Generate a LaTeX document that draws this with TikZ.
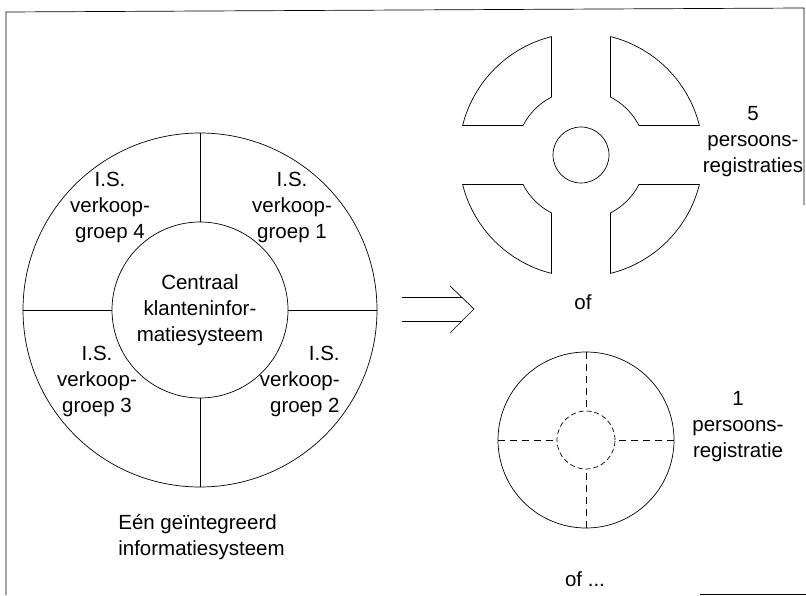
\documentclass[tikz,border=0pt]{standalone}
\usepackage{fontspec}
\setmainfont{Liberation Sans}
\usetikzlibrary{positioning}
\begin{document}
\begin{tikzpicture}[x=1pt,y=1pt,line width=0.7pt,
  lbl/.style={align=center,inner sep=0pt,font=\fontsize{20.5}{26}\selectfont},
  ring/.style={circle,draw,inner sep=0pt}]
\useasboundingbox (0,0) rectangle (806,595);
% frame (partly cut off)
\draw (6,0)--(6,583)--(804,587)--(804,390);
\draw (700,1)--(806,1);
% integrated system
\node[ring,minimum size=354pt] (ring) at (200,285) {};
\node[ring,minimum size=176pt,lbl] (core) at (ring.center) {Centraal\\klanteninfor-\\matiesysteem};
\draw (ring.north)--(core.north);
\draw (ring.south)--(core.south);
\draw (ring.west)--(core.west);
\draw (ring.east)--(core.east);
\node[lbl] (g4) at (110,388) {I.S.\\verkoop-\\groep 4};
\node[lbl] (g1) at (292,388) {I.S.\\verkoop-\\groep 1};
\node[lbl] (g3) at (97,214) {I.S.\\verkoop-\\groep 3};
\node[lbl,align=right,anchor=east] (g2) at (340,214) {I.S.\\verkoop-\\groep 2};
\node[lbl,align=left,anchor=west] (een) at (118,57.5) {E\'en ge\"integreerd\\informatiesysteem};
% arrow
\coordinate (a1) at (402,298); \coordinate (a2) at (462,298);
\coordinate (b1) at (402,274); \coordinate (b2) at (462,274);
\coordinate (tip) at (474,286);
\draw (a1)--(a2) (b1)--(b2);
\draw (450,309)--(tip)--(450,262);
% 5 registrations
\coordinate (seg) at (581,440);
\foreach \b in {0,90,180,270}
  \draw[shift={(seg)}] (\b+14:122) arc[start angle=\b+14,end angle=\b+76,radius=122]
    --(\b+63:65) arc[start angle=\b+63,end angle=\b+27,radius=65]--cycle;
\node[ring,minimum size=56pt] (hub) at (seg) {};
\node[lbl] (five) at (753,453) {5\\persoons-\\registraties};
\node[lbl] (of1) at (583,293) {of};
% 1 registration
\node[ring,minimum size=176pt] (reg) at (586,155) {};
\node[ring,dash pattern=on 5pt off 3pt,minimum size=58pt] (regc) at (reg.center) {};
\foreach \a in {north,south,east,west}
  \draw[dash pattern=on 7pt off 5pt] (reg.\a)--(regc.\a);
\node[lbl] (one) at (738,168) {1\\persoons-\\registratie};
\node[lbl] (of2) at (585,16) {of ...};
\end{tikzpicture}
\end{document}
